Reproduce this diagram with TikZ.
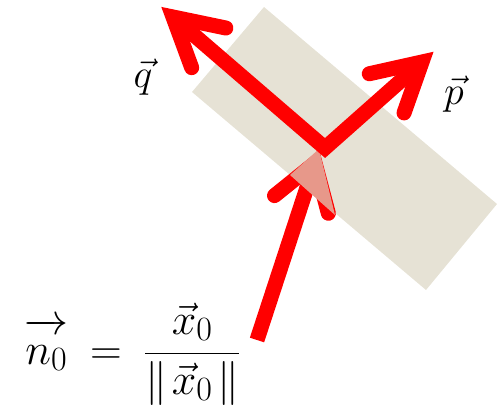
\RequirePackage{fix-cm}
\documentclass[tikz,border=0pt]{standalone}
\usetikzlibrary{calc}
\DeclareMathSizes{44}{44}{34}{27}
\definecolor{beige}{RGB}{230,226,213}
\definecolor{pinkish}{RGB}{231,152,138}
\begin{document}
\begin{tikzpicture}[x=1pt,y=-1pt,
  redline/.style={draw=red,line width=15pt},
  headline/.style={draw=red,line width=15pt,line cap=round,line join=miter,miter limit=10},
  lab/.style={font=\fontsize{40}{48}\selectfont,inner sep=0pt}]
\useasboundingbox (0,0) rectangle (504,409);
\fill[beige] (264,7) -- (497,204) -- (426,290) -- (192,92) -- cycle;
\coordinate (J) at (325,148);
\coordinate (Tq) at (173,17);
\coordinate (Tp) at (422,62);
\coordinate (Sn) at (257,340);
\coordinate (Tn) at (315,163);
% incoming arrow
\draw[redline] (Sn) -- (Tn);
\draw[headline] ($(Tn)!52pt!33:(Sn)$) -- (Tn) -- ($(Tn)!52pt!-33:(Sn)$);
\fill[pinkish] (319,149) -- (290,175) -- (335,215) -- cycle;
% q and p
\draw[redline,line join=miter] (Tq) -- (J) -- (Tp);
\draw[headline] ($(Tq)!54pt!29:(J)$) -- (Tq) -- ($(Tq)!54pt!-29:(J)$);
\draw[headline] ($(Tp)!54pt!29:(J)$) -- (Tp) -- ($(Tp)!54pt!-29:(J)$);
% labels
\node[lab,anchor=base] (q) at (143,88) {$\vec q$};
\node[lab,anchor=base] (p) at (454,105) {$\vec p$};
\node[lab,font=\fontsize{44}{52}\selectfont,anchor=base west] (f) at (24,364)
  {$\displaystyle\overrightarrow{n_0\vphantom{b}}\mkern4mu=\mkern4mu\frac{\vec x_0}{\|\mkern2mu\vec x_0\mkern2mu\|}$};
\end{tikzpicture}
\end{document}
